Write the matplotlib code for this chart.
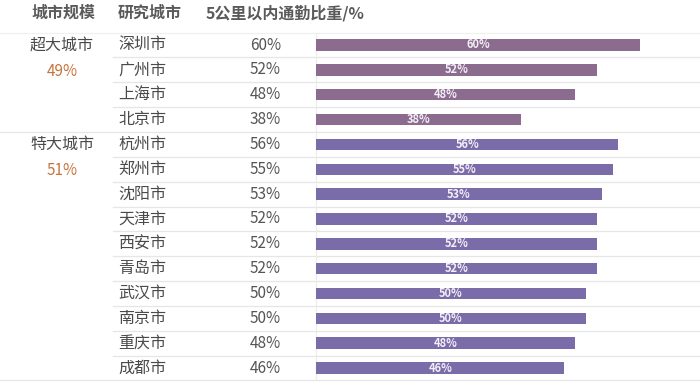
import matplotlib
matplotlib.use("Agg")
import matplotlib.pyplot as plt
import matplotlib.transforms as mtransforms

plt.rcParams['font.family'] = ['Noto Sans CJK SC', 'DejaVu Sans']

# data
headers = ["城市规模", "研究城市", "5公里以内通勤比重/%"]
groups = ["超大城市", "特大城市"]
group_avg = ["49%", "51%"]
group_sizes = [4, 10]
cities = ["深圳市", "广州市", "上海市", "北京市",
          "杭州市", "郑州市", "沈阳市", "天津市", "西安市",
          "青岛市", "武汉市", "南京市", "重庆市", "成都市"]
shares = [60, 52, 48, 38, 56, 55, 53, 52, 52, 52, 50, 50, 48, 46]

group_colors = ["#8C6C8E", "#7A6BA9"]
text_col = "#4a4a4a"
line_col = "#e6e6e6"

W, H = 700, 385
fig = plt.figure(figsize=(W / 100, H / 100), dpi=100)
fig.patch.set_facecolor("white")

# axes for bars: x from 316 px to the right edge, rows 45 px .. 368 px
row0, row_step = 45, 24.85
n = len(cities)
top_px = row0 - row_step / 2
bot_px = row0 + row_step * (n - 1) + row_step / 2
ax = fig.add_axes([316 / W, 1 - bot_px / H, 1 - 316 / W, (bot_px - top_px) / H])
ax.set_xlim(0, (W - 316) / 5.4)
ax.set_ylim(n - 0.5, -0.5)
ax.axis("off")

colors = []
for g, size in enumerate(group_sizes):
    colors += [group_colors[g]] * size

ypos = list(range(n))
bars = ax.barh(ypos, shares, height=0.46, color=colors, edgecolor="none")
for b, v in zip(bars, shares):
    ax.text(b.get_width() / 2, b.get_y() + b.get_height() / 2, f"{v}%",
            ha="center", va="center", fontsize=8, fontweight="bold",
            color="#f3eef6")

tr = mtransforms.blended_transform_factory(fig.transFigure, ax.transData)

# header
hy = (13 - row0) / row_step
ax.text(64 / W, hy, headers[0], transform=tr, ha="center", va="center",
        fontsize=11.5, fontweight="bold", color="#5a5a5a", clip_on=False)
ax.text(150 / W, hy, headers[1], transform=tr, ha="center", va="center",
        fontsize=11.5, fontweight="bold", color="#5a5a5a", clip_on=False)
ax.text(206 / W, hy, headers[2], transform=tr, ha="left", va="center",
        fontsize=11.5, fontweight="bold", color="#5a5a5a", clip_on=False)

# city names and values
for i, (c, v) in enumerate(zip(cities, shares)):
    ax.text(118 / W, i, c, transform=tr, ha="left", va="center",
            fontsize=11.5, color=text_col, clip_on=False)
    ax.text(281 / W, i, f"{v}%", transform=tr, ha="right", va="center",
            fontsize=11, color="#555555", clip_on=False)

# group labels
start = 0
for g, size in enumerate(group_sizes):
    ax.text(62 / W, start, groups[g], transform=tr, ha="center", va="center",
            fontsize=11.5, color=text_col, clip_on=False)
    ax.text(62 / W, start + 1.05, group_avg[g], transform=tr, ha="center",
            va="center", fontsize=11, color="#c8743f", clip_on=False)
    start += size

# row separators
bounds = [sum(group_sizes[:k + 1]) - 0.5 for k in range(len(group_sizes))]
for i in range(n):
    y = i + 0.5
    x0 = 0 if y in bounds else 113 / W
    ax.plot([x0, 1], [y, y], transform=tr, color=line_col, lw=0.9,
            clip_on=False, zorder=0)
ax.plot([0, 1], [-0.5, -0.5], transform=tr, color="#f0f0f0", lw=0.9,
        clip_on=False, zorder=0)

# vertical guide at zero
ax.plot([0, 0], [-0.5, n - 0.5], color="#ececec", lw=0.9, clip_on=False,
        zorder=0)

fig.savefig("out.png", dpi=100, facecolor="white")
